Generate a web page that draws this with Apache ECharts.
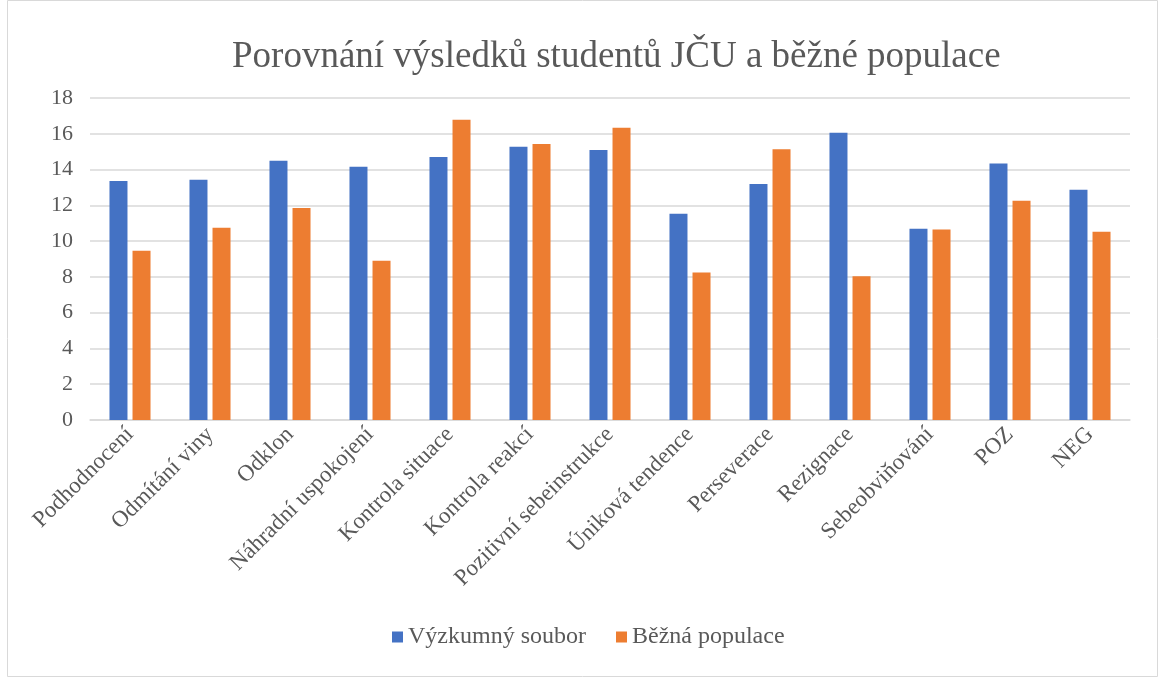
<!DOCTYPE html>
<html><head><meta charset="utf-8">
<script src="https://cdn.jsdelivr.net/npm/echarts@6/dist/echarts.min.js"></script>
<style>html,body{margin:0;padding:0;background:#fff}#c{width:1158px;height:678px}</style>
</head><body><div id="c"></div>
<script>
const categories = ['Podhodnocení','Odmítání viny','Odklon','Náhradní uspokojení','Kontrola situace','Kontrola reakcí','Pozitivní sebeinstrukce','Úniková tendence','Perseverace','Rezignace','Sebeobviňování','POZ','NEG'];
const vyzkumny = [13.36,13.43,14.49,14.16,14.70,15.28,15.09,11.53,13.19,16.06,10.69,14.34,12.87];
const bezna = [9.46,10.74,11.85,8.90,16.79,15.43,16.34,8.24,15.13,8.04,10.65,12.25,10.52];
const seriesNames = ['Výzkumný soubor','Běžná populace'];
const titleText = 'Porovnání výsledků studentů JČU a běžné populace';

const font = '"Liberation Serif","Times New Roman",serif';
const chart = echarts.init(document.getElementById('c'));
chart.setOption({
  animation:false,
  title:{text:titleText,top:39,left:232,padding:0,
    textStyle:{fontFamily:font,fontSize:37,fontWeight:'normal',color:'#595959'}},
  legend:{bottom:24,left:387,itemWidth:11,itemHeight:11,itemGap:30,icon:'rect',
    textStyle:{fontFamily:font,fontSize:24,color:'#595959'},data:seriesNames},
  grid:{left:90,right:28,top:98,bottom:258,containLabel:false},
  graphic:[{type:'rect',shape:{x:7.5,y:0.5,width:1150,height:676},style:{fill:'none',stroke:'#d9d9d9',lineWidth:1},silent:true}],
  xAxis:{type:'category',data:categories,axisTick:{show:false},
    axisLine:{lineStyle:{color:'#d9d9d9',width:1.5}},
    axisLabel:{rotate:45,interval:0,margin:11,fontFamily:font,fontSize:23,color:'#595959'}},
  yAxis:{type:'value',min:0,max:18,interval:2,
    axisLine:{show:false},axisTick:{show:false},
    splitLine:{lineStyle:{color:'#d9d9d9',width:1.5}},
    axisLabel:{margin:17,fontFamily:font,fontSize:22,color:'#595959'}},
  series:[
    {name:seriesNames[0],type:'bar',data:vyzkumny,barWidth:18,barGap:'28%',itemStyle:{color:'#4472C4'}},
    {name:seriesNames[1],type:'bar',data:bezna,barWidth:18,barGap:'28%',itemStyle:{color:'#ED7D31'}}
  ]
});
</script></body></html>
